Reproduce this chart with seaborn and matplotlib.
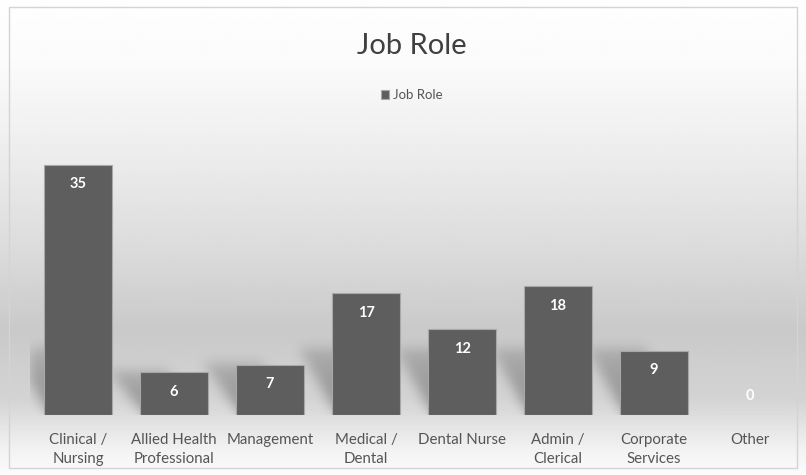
import numpy as np
import pandas as pd
import matplotlib
matplotlib.use("Agg")
import matplotlib.pyplot as plt
from matplotlib.patches import Rectangle
from matplotlib.path import Path
import seaborn as sns

categories = ["Clinical /\nNursing", "Allied Health\nProfessional", "Management",
              "Medical /\nDental", "Dental Nurse", "Admin /\nClerical",
              "Corporate\nServices", "Other"]
counts = [35, 6, 7, 17, 12, 18, 9, 0]
series_name = "Job Role"

sns.set_theme(style="white")
plt.rcParams["font.family"] = ["Lato", "DejaVu Sans"]

W, H = 806, 475
fig = plt.figure(figsize=(W / 100, H / 100), dpi=100)

# soft vertical background gradient over the whole chart area
bg = fig.add_axes([0, 0, 1, 1], zorder=0)
ys = np.linspace(0, H, 200)
knots_y = [0, 60, 150, 250, 330, 400, 450, 475]
knots_v = [0.995, 0.985, 0.93, 0.86, 0.79, 0.83, 0.95, 0.985]
vals = np.interp(ys, knots_y, knots_v)
grad = np.repeat(vals[:, None], 10, axis=1)
bg.imshow(grad, cmap="gray", vmin=0, vmax=1, aspect="auto",
          extent=[0, 1, 0, 1], origin="upper")
bg.add_patch(Rectangle((9 / W, 1 - 468 / H), (797 - 9) / W, (468 - 7) / H,
                       transform=bg.transAxes, fill=False,
                       edgecolor="#d4d4d4", linewidth=1.0))
bg.set_axis_off()

ax = fig.add_axes([30 / W, 60 / H, 768 / W, 286 / H], zorder=1)
ax.patch.set_alpha(0)

df = pd.DataFrame({"role": categories, "count": counts})
bw = 0.71
xmin, xmax, ymax = -0.5, len(categories) - 0.5, 40

# blurred cast shadows leaning to the upper left from each bar's foot
nx, ny = 768, 286
gx = np.linspace(xmin, xmax, nx)
gy = np.linspace(0, ymax, ny)
GX, GY = np.meshgrid(gx, gy)
pts = np.column_stack([GX.ravel(), GY.ravel()])
mask = np.zeros(GX.size)
for i, v in enumerate(counts):
    if v <= 0:
        continue
    x0, x1 = i - bw / 2, i + bw / 2
    d = min(v, 9.0) * 1.05
    dx = 0.35
    path = Path([(x0 + 0.05, 0), (x1 - 0.1, 0), (x1 - dx - 0.1, d), (x0 - dx, d)])
    inside = path.contains_points(pts)
    fade = np.clip(1 - GY.ravel() / (d + 1e-9), 0, 1) ** 0.6
    mask = np.maximum(mask, inside * (0.35 + 0.65 * fade))
mask = mask.reshape(ny, nx)
k = np.exp(-0.5 * (np.arange(-15, 16) / 6.0) ** 2)
k /= k.sum()
mask = np.apply_along_axis(lambda r: np.convolve(r, k, mode="same"), 1, mask)
mask = np.apply_along_axis(lambda c: np.convolve(c, k, mode="same"), 0, mask)
shadow = np.zeros((ny, nx, 4))
shadow[..., :3] = 0.25
shadow[..., 3] = mask * 0.45
ax.imshow(shadow, extent=[xmin, xmax, 0, ymax], origin="lower",
          aspect="auto", zorder=1, interpolation="bilinear")

sns.barplot(data=df, x="role", y="count", ax=ax, color="#5e5e5e",
            width=bw, saturation=1, edgecolor="#a8a8a8", linewidth=0.8,
            zorder=2, label=series_name)

ax.set_ylim(0, ymax)
ax.set_xlim(xmin, xmax)
ax.set_xlabel("")
ax.set_ylabel("")
ax.set_yticks([])
ax.tick_params(axis="x", length=0, pad=13, labelsize=10.8, labelcolor="#555555")
for lbl in ax.get_xticklabels():
    lbl.set_linespacing(1.45)
for sp in ax.spines.values():
    sp.set_visible(False)

for i, v in enumerate(counts):
    off = -14 if v > 0 else 14
    ax.annotate(f"{v}", (i, v), xytext=(0, off), textcoords="offset points",
                ha="center", va="center", color="white", fontsize=10.5,
                fontweight="bold", zorder=3)

fig.text(412 / W, 1 - 46 / H, "Job Role", ha="center", va="center",
         fontsize=21, color="#404040")

leg = ax.legend(loc="center", bbox_to_anchor=(412 / W, 1 - 95 / H),
                bbox_transform=fig.transFigure, frameon=False, fontsize=9.5,
                handlelength=0.6, handleheight=0.6, handletextpad=0.3,
                labelcolor="#555555")

fig.savefig("out.png", dpi=100)
